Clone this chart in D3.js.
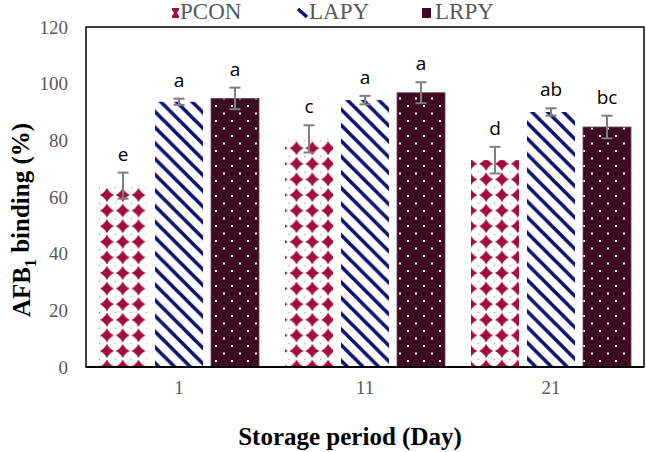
<!DOCTYPE html>
<html>
<head>
<meta charset="utf-8">
<script src="https://cdn.jsdelivr.net/npm/d3@7"></script>
<style>
  body { margin: 0; background: #fff; }
  svg { display: block; }
</style>
</head>
<body>
<div id="chart"></div>
<script>
// data
let days = ['1', '11', '21'];
let series = ['PCON', 'LAPY', 'LRPY'];
let pconValues = [64, 80.5, 73];
let lapyValues = [93.6, 94.2, 90];
let lrpyValues = [94.8, 96.8, 84.7];
let pconErrors = [4.6, 4.8, 4.7];
let lapyErrors = [1.1, 1.5, 1.3];
let lrpyErrors = [3.8, 3.7, 4.0];
let pconLetters = ['e', 'c', 'd'];
let lapyLetters = ['a', 'a', 'ab'];
let lrpyLetters = ['a', 'a', 'bc'];
let yTicks = [0, 20, 40, 60, 80, 100, 120];

let svgWidth = 646;
let svgHeight = 452;

let margin = { top: 27, right: 2, bottom: 85, left: 86 };
let width = svgWidth - margin.left - margin.right;
let height = svgHeight - margin.top - margin.bottom;

let svg = d3.select('#chart').append('svg')
  .attr('width', svgWidth)
  .attr('height', svgHeight);

// patterns (user space = chartGroup coords)
let defs = svg.append('defs');

let pPcon = defs.append('pattern')
  .attr('id', 'pat-pcon')
  .attr('patternUnits', 'userSpaceOnUse')
  .attr('width', 15.8).attr('height', 15.6)
  .attr('x', 13).attr('y', 331.8);
pPcon.append('rect').attr('width', 15.8).attr('height', 15.6).attr('fill', '#fff');
pPcon.append('path')
  .attr('transform', 'translate(7.9,7.8)')
  .attr('d', 'M0,-7 L2.6,-2.6 L7,0 L2.6,2.6 L0,7 L-2.6,2.6 L-7,0 L-2.6,-2.6 Z')
  .attr('fill', '#a50a40');
pPcon.append('circle').attr('cx', 7.9).attr('cy', 7.8).attr('r', 4.3).attr('fill', '#a50a40');
pPcon.append('rect').attr('x', 0).attr('y', 0).attr('width', 1).attr('height', 1).attr('fill', '#c85a7a');

let pLapy = defs.append('pattern')
  .attr('id', 'pat-lapy')
  .attr('patternUnits', 'userSpaceOnUse')
  .attr('width', 15.7).attr('height', 15.7);
pLapy.append('rect').attr('width', 15.7).attr('height', 15.7).attr('fill', '#fff');
pLapy.append('path')
  .attr('d', 'M-4,-4 L19.7,19.7 M-4,11.7 L4,19.7 M11.7,-4 L19.7,4')
  .attr('stroke', '#0b1170')
  .attr('stroke-width', 3.6);

let pLrpy = defs.append('pattern')
  .attr('id', 'pat-lrpy')
  .attr('patternUnits', 'userSpaceOnUse')
  .attr('width', 16).attr('height', 15)
  .attr('x', 125).attr('y', 0);
pLrpy.append('rect').attr('width', 16).attr('height', 15).attr('fill', '#3d0a20');
pLrpy.append('rect').attr('x', 4).attr('y', 3).attr('width', 2).attr('height', 2).attr('fill', '#fff');
pLrpy.append('rect').attr('x', 12).attr('y', 10.5).attr('width', 2).attr('height', 2).attr('fill', '#fff');

let fills = { PCON: 'url(#pat-pcon)', LAPY: 'url(#pat-lapy)', LRPY: 'url(#pat-lrpy)' };

let chartGroup = svg.append('g')
  .attr('transform', `translate(${margin.left}, ${margin.top})`);

// scales
let x0 = d3.scaleBand()
  .domain(days)
  .range([0, width]);

let x1 = d3.scaleBand()
  .domain(series)
  .range([0, x0.bandwidth()])
  .paddingInner(0.143)
  .paddingOuter(0.232);

let y = d3.scaleLinear()
  .domain([0, 120])
  .range([height, 0]);

// flatten
let valueMap = { PCON: pconValues, LAPY: lapyValues, LRPY: lrpyValues };
let errorMap = { PCON: pconErrors, LAPY: lapyErrors, LRPY: lrpyErrors };
let letterMap = { PCON: pconLetters, LAPY: lapyLetters, LRPY: lrpyLetters };

let barData = [];
days.forEach(function(day, i) {
  series.forEach(function(s) {
    barData.push({ day: day, key: s, value: valueMap[s][i], err: errorMap[s][i], letter: letterMap[s][i] });
  });
});

// bars
chartGroup.selectAll('.bar')
  .data(barData)
  .enter()
  .append('rect')
  .classed('bar', true)
  .attr('x', d => x0(d.day) + x1(d.key))
  .attr('y', d => y(d.value))
  .attr('width', x1.bandwidth())
  .attr('height', d => height - y(d.value))
  .attr('fill', d => fills[d.key])
  .attr('stroke', d => d.key == 'LRPY' ? '#6e4656' : 'none')
  .attr('stroke-width', 0.8);

// error bars
let errGroup = chartGroup.append('g')
  .attr('stroke', '#7f7f7f')
  .attr('stroke-width', 2);

let cx = d => x0(d.day) + x1(d.key) + x1.bandwidth() / 2;

errGroup.selectAll('.err-line')
  .data(barData)
  .enter()
  .append('line')
  .attr('x1', cx).attr('x2', cx)
  .attr('y1', d => y(d.value + d.err))
  .attr('y2', d => y(d.value - d.err));

errGroup.selectAll('.err-top')
  .data(barData)
  .enter()
  .append('line')
  .attr('x1', d => cx(d) - 5.5).attr('x2', d => cx(d) + 5.5)
  .attr('y1', d => y(d.value + d.err))
  .attr('y2', d => y(d.value + d.err));

errGroup.selectAll('.err-bot')
  .data(barData)
  .enter()
  .append('line')
  .attr('x1', d => cx(d) - 5.5).attr('x2', d => cx(d) + 5.5)
  .attr('y1', d => y(d.value - d.err))
  .attr('y2', d => y(d.value - d.err));

// significance letters
chartGroup.selectAll('.letter')
  .data(barData)
  .enter()
  .append('text')
  .attr('x', cx)
  .attr('y', d => y(d.value + d.err) - 12)
  .attr('text-anchor', 'middle')
  .attr('font-family', '"Open Sans", sans-serif')
  .attr('font-size', '19px')
  .attr('fill', '#000')
  .text(d => d.letter);

// frame
chartGroup.append('rect')
  .attr('x', 0).attr('y', 0)
  .attr('width', width).attr('height', height)
  .attr('fill', 'none')
  .attr('stroke', '#000')
  .attr('stroke-width', 1.5);

chartGroup.append('line')
  .attr('x1', 0).attr('x2', width)
  .attr('y1', height).attr('y2', height)
  .attr('stroke', '#000')
  .attr('stroke-width', 2.2);

// axes
let leftAxis = d3.axisLeft(y).tickValues(yTicks).tickSize(0).tickPadding(18);
let yAxis = chartGroup.append('g').call(leftAxis);
yAxis.select('.domain').remove();
yAxis.selectAll('text')
  .attr('font-family', '"Liberation Serif", "Times New Roman", serif')
  .attr('font-size', '19px')
  .attr('fill', '#595959');

let bottomAxis = d3.axisBottom(x0).tickSize(0).tickPadding(14);
let xAxis = chartGroup.append('g')
  .attr('transform', `translate(0, ${height})`)
  .call(bottomAxis);
xAxis.select('.domain').remove();
xAxis.selectAll('text')
  .attr('font-family', '"Liberation Serif", "Times New Roman", serif')
  .attr('font-size', '19px')
  .attr('fill', '#595959');

// axis titles
svg.append('text')
  .attr('x', 350)
  .attr('y', 445)
  .attr('text-anchor', 'middle')
  .attr('font-family', '"Liberation Serif", "Times New Roman", serif')
  .attr('font-weight', 'bold')
  .attr('font-size', '25px')
  .text('Storage period (Day)');

let yTitle = svg.append('text')
  .attr('transform', `translate(30, 220) rotate(-90)`)
  .attr('text-anchor', 'middle')
  .attr('font-family', '"Liberation Serif", "Times New Roman", serif')
  .attr('font-weight', 'bold')
  .attr('font-size', '25px');
yTitle.append('tspan').text('AFB');
yTitle.append('tspan').attr('font-size', '16px').attr('dy', '0.35em').text('1');
yTitle.append('tspan').attr('dy', '-0.25em').text(' binding (%)');

// legend
let legendX = [172, 297, 422];
let legend = svg.append('g');
series.forEach(function(s, i) {
  let g = legend.append('g').attr('transform', `translate(${legendX[i]}, 0)`);
  if (s == 'PCON') {
    g.append('path')
      .attr('d', 'M0,8 L7,8 L7,10 L5,13 L7,16 L7,18 L0,18 L0,16 L2,13 L0,10 Z')
      .attr('fill', '#a50a40');
  } else if (s == 'LAPY') {
    g.append('line')
      .attr('x1', 1).attr('y1', 9).attr('x2', 10).attr('y2', 17)
      .attr('stroke', '#0b1170').attr('stroke-width', 3.5);
  } else {
    g.append('rect')
      .attr('x', 0).attr('y', 8).attr('width', 9).attr('height', 10)
      .attr('fill', '#3d0a20');
  }
  g.append('text')
    .attr('x', s == 'LRPY' ? 13 : (s == 'LAPY' ? 12 : 8))
    .attr('y', 19)
    .attr('font-family', '"Liberation Serif", "Times New Roman", serif')
    .attr('font-size', '23px')
    .attr('fill', '#595959')
    .text(s);
});
</script>
</body>
</html>
